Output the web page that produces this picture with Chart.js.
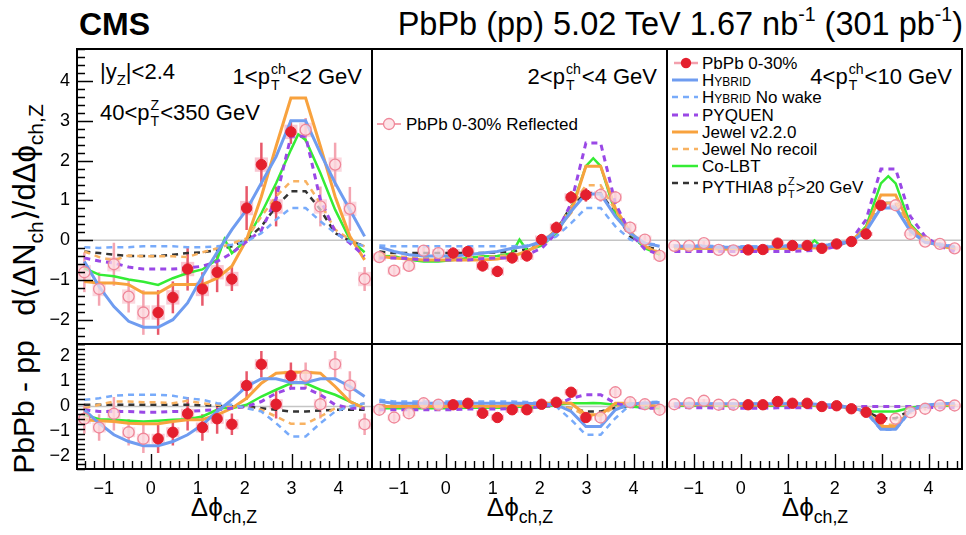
<!DOCTYPE html>
<html>
<head>
<meta charset="utf-8">
<script src="https://cdn.jsdelivr.net/npm/chart.js@4.4.1/dist/chart.umd.min.js"></script>
<style>
  body { margin: 0; background: #fff; }
  #page { position: relative; width: 966px; height: 535px; overflow: hidden;
          font-family: "Liberation Sans", Arial, Helvetica, sans-serif; color: #000; }
  #page canvas { position: absolute; }
  .t { position: absolute; white-space: nowrap; line-height: 1; }
  .t sub { font-size: 0.68em; vertical-align: -0.38em; line-height: 0; }
  .t sup { font-size: 0.6em; vertical-align: 0.7em; line-height: 0; }
  .ss { display: inline-flex; flex-direction: column; font-size: 0.64em; line-height: 1.15;
        vertical-align: 0.7em; margin: 0 1px; }
  .leg { position: absolute; font-size: 17px; line-height: 1; white-space: nowrap; }
  .leg svg { position: absolute; left: -31px; top: -4px; }
  .sc { font-variant: small-caps; }
</style>
</head>
<body>
<div id="page">
  <div class="t" style="left:79px;top:8px;font-size:32px;font-weight:bold;">CMS</div>
  <div class="t" style="right:3px;top:8px;font-size:32.5px;">PbPb (pp) 5.02 TeV 1.67 nb<sup>-1</sup> (301 pb<sup>-1</sup>)</div>

  <div class="t" style="left:24px;top:210px;font-size:31px;transform:translate(-50%,-50%) rotate(-90deg);">d⟨ΔN<sub>ch</sub>⟩/dΔϕ<sub>ch,Z</sub></div>
  <div class="t" style="left:24px;top:407px;font-size:30px;transform:translate(-50%,-50%) rotate(-90deg);">PbPb - pp</div>

  <div class="t" style="left:224px;top:494px;font-size:26px;transform:translateX(-50%);">Δϕ<sub>ch,Z</sub></div>
  <div class="t" style="left:520px;top:494px;font-size:26px;transform:translateX(-50%);">Δϕ<sub>ch,Z</sub></div>
  <div class="t" style="left:815px;top:494px;font-size:26px;transform:translateX(-50%);">Δϕ<sub>ch,Z</sub></div>

  <div class="t" style="left:100px;top:61px;font-size:22px;">|y<sub>Z</sub>|&lt;2.4</div>
  <div class="t" style="left:100px;top:97px;font-size:22px;">40&lt;p<span class="ss"><span>Z</span><span>T</span></span>&lt;350 GeV</div>
  <div class="t" style="right:604px;top:61px;font-size:22px;">1&lt;p<span class="ss"><span>ch</span><span>T</span></span>&lt;2 GeV</div>
  <div class="t" style="right:309px;top:61px;font-size:22px;">2&lt;p<span class="ss"><span>ch</span><span>T</span></span>&lt;4 GeV</div>
  <div class="t" style="right:14px;top:61px;font-size:22px;">4&lt;p<span class="ss"><span>ch</span><span>T</span></span>&lt;10 GeV</div>

  <div class="leg" style="left:406px;top:116px;">
    <svg width="28" height="24"><line x1="2" y1="12" x2="26" y2="12" stroke="#f3a0ad" stroke-width="2"/><circle cx="14" cy="12" r="5.5" fill="#fde4e8" stroke="#ef8799" stroke-width="1.3"/></svg>PbPb 0-30% Reflected</div>

  <div id="legend3"></div>
</div>

<script>
// phi bin centres (rad), 20 bins from -pi/2 to 3pi/2
const phiBins = [-1.414, -1.100, -0.785, -0.471, -0.157, 0.157, 0.471, 0.785, 1.100, 1.414,
                 1.728, 2.042, 2.356, 2.670, 2.985, 3.299, 3.613, 3.927, 4.241, 4.555];
// Co-LBT has a couple of extra points (pi/2 and pi)
const coLbtPhi = [-1.414, -1.100, -0.785, -0.471, -0.157, 0.157, 0.471, 0.785, 1.100, 1.414, 1.571,
                  1.728, 2.042, 2.356, 2.670, 2.985, 3.142, 3.299, 3.613, 3.927, 4.241, 4.555];
const dataPhi = phiBins.slice(5, 15);
const reflPhi = phiBins.slice(0, 5).concat(phiBins.slice(15));

const xTicks = [-1, 0, 1, 2, 3, 4];
const yTicksTop = [-2, -1, 0, 1, 2, 3, 4];
const yTicksBot = [-2, -1, 0, 1, 2];
const xRange = [-Math.PI / 2, 3 * Math.PI / 2];
const yRangeTop = [-2.6, 4.8];
const yRangeBot = [-2.5, 2.5];

// PbPb 0-30% (one array per pT bin: 1-2, 2-4, 4-10 GeV)
const pbpbTop = [
  [-1.81, -1.43, -0.72, -1.22, -0.80, -0.97, 0.81, 1.90, 0.85, 2.72],
  [-0.32, -0.28, -0.64, -0.78, -0.44, -0.39, 0.02, 0.32, 1.08, 1.14],
  [-0.24, -0.23, -0.07, -0.13, -0.13, -0.20, -0.09, -0.03, 0.16, 0.88]
];
const statTop = [
  [0.56, 0.40, 0.54, 0.42, 0.50, 0.30, 0.55, 0.55, 0.50, 0.30],
  [0.14, 0.14, 0.14, 0.14, 0.14, 0.14, 0.14, 0.15, 0.16, 0.17],
  [0.05, 0.05, 0.05, 0.05, 0.05, 0.05, 0.05, 0.05, 0.06, 0.07]
];
const sysTop = [
  [0.18, 0.18, 0.18, 0.18, 0.18, 0.18, 0.18, 0.18, 0.18, 0.18],
  [0.10, 0.10, 0.10, 0.10, 0.10, 0.10, 0.10, 0.10, 0.10, 0.10],
  [0.05, 0.05, 0.05, 0.05, 0.05, 0.05, 0.05, 0.05, 0.05, 0.05]
];
const reflTop = [
  [-0.80, -1.22, -0.60, -1.41, -1.81, 2.77, 0.85, 1.90, 0.79, -0.97],
  [-0.42, -0.76, -0.64, -0.26, -0.32, 1.14, 1.08, 0.32, 0.02, -0.39],
  [-0.14, -0.14, -0.07, -0.24, -0.25, 0.88, 0.16, -0.03, -0.09, -0.20]
];

const pbpbBot = [
  [-1.29, -1.03, -0.29, -0.84, -0.49, -0.71, 0.84, 1.69, 0.09, 1.23],
  [0.07, 0.13, -0.27, -0.44, -0.13, -0.13, 0.09, 0.17, 0.57, -0.44],
  [0.07, 0.07, 0.20, 0.13, 0.13, 0.00, 0.03, -0.09, -0.23, -0.49]
];
const statBot = [
  [0.57, 0.53, 0.67, 0.53, 0.60, 0.43, 0.57, 0.53, 0.57, 0.53],
  [0.17, 0.17, 0.17, 0.17, 0.17, 0.17, 0.17, 0.17, 0.18, 0.18],
  [0.07, 0.07, 0.07, 0.07, 0.07, 0.07, 0.07, 0.07, 0.08, 0.09]
];
const sysBot = [
  [0.20, 0.20, 0.20, 0.20, 0.20, 0.20, 0.20, 0.20, 0.20, 0.20],
  [0.12, 0.12, 0.12, 0.12, 0.12, 0.12, 0.12, 0.12, 0.12, 0.12],
  [0.07, 0.07, 0.07, 0.07, 0.07, 0.07, 0.07, 0.07, 0.07, 0.07]
];
const reflBot = [
  [-0.49, -0.84, -0.29, -1.03, -1.29, 1.23, 0.09, 1.69, 0.84, -0.71],
  [-0.13, -0.44, -0.27, 0.13, 0.07, -0.44, 0.57, 0.17, 0.09, -0.13],
  [0.09, 0.13, 0.23, 0.07, 0.07, -0.49, -0.23, -0.09, 0.04, 0.04]
];

// models, top row (values at phiBins)
const hybridTop = [
  [-0.53, -1.16, -1.66, -2.03, -2.18, -2.18, -1.99, -1.57, -0.90, -0.30, 0.27, 0.77, 1.44, 2.10, 3.00, 3.00, 2.19, 1.44, 0.77, 0.10],
  [-0.17, -0.28, -0.36, -0.39, -0.39, -0.39, -0.36, -0.32, -0.28, -0.20, -0.15, -0.03, 0.22, 0.73, 1.16, 1.16, 0.60, 0.18, -0.07, -0.15],
  [-0.15, -0.15, -0.15, -0.17, -0.17, -0.17, -0.17, -0.15, -0.15, -0.15, -0.13, -0.10, -0.03, 0.23, 0.81, 0.81, 0.23, -0.05, -0.11, -0.16]
];
const noWakeTop = [
  [-0.17, -0.19, -0.17, -0.17, -0.15, -0.15, -0.15, -0.17, -0.17, -0.15, -0.11, -0.03, 0.18, 0.52, 0.81, 0.81, 0.48, 0.18, -0.03, -0.15],
  [-0.13, -0.15, -0.15, -0.15, -0.15, -0.15, -0.15, -0.15, -0.15, -0.15, -0.13, -0.07, 0.10, 0.43, 0.81, 0.81, 0.35, 0.02, -0.08, -0.11],
  [-0.13, -0.13, -0.13, -0.15, -0.15, -0.15, -0.15, -0.13, -0.13, -0.13, -0.11, -0.08, 0.00, 0.25, 0.85, 0.85, 0.25, -0.03, -0.10, -0.14]
];
const pyquenTop = [
  [-0.44, -0.52, -0.57, -0.67, -0.72, -0.72, -0.72, -0.69, -0.65, -0.53, -0.32, -0.03, 0.25, 1.05, 2.61, 2.61, 1.02, 0.22, -0.07, -0.40],
  [-0.44, -0.44, -0.46, -0.49, -0.49, -0.49, -0.49, -0.46, -0.44, -0.44, -0.36, -0.20, 0.18, 0.93, 2.44, 2.44, 0.93, 0.18, -0.22, -0.36],
  [-0.28, -0.28, -0.28, -0.28, -0.28, -0.28, -0.28, -0.28, -0.28, -0.26, -0.24, -0.15, 0.02, 0.52, 1.79, 1.79, 0.60, 0.10, -0.15, -0.28]
];
const jewelTop = [
  [-1.03, -1.07, -1.07, -1.11, -1.32, -1.32, -1.11, -1.11, -1.11, -0.95, -0.65, 0.02, 1.10, 2.36, 3.57, 3.57, 2.36, 1.10, 0.10, -0.49],
  [-0.40, -0.44, -0.47, -0.49, -0.49, -0.49, -0.49, -0.49, -0.47, -0.40, -0.28, -0.07, 0.27, 0.70, 1.86, 1.86, 0.80, 0.22, -0.15, -0.33],
  [-0.20, -0.20, -0.20, -0.22, -0.22, -0.22, -0.22, -0.20, -0.20, -0.20, -0.18, -0.13, 0.00, 0.30, 1.14, 1.14, 0.35, 0.00, -0.15, -0.20]
];
const noRecoilTop = [
  [-0.28, -0.42, -0.50, -0.38, -0.40, -0.40, -0.40, -0.42, -0.30, -0.20, -0.08, 0.05, 0.60, 1.10, 1.48, 1.48, 0.93, 0.27, 0.02, -0.15],
  [-0.32, -0.40, -0.42, -0.44, -0.44, -0.44, -0.44, -0.42, -0.40, -0.36, -0.28, -0.10, 0.22, 0.85, 1.38, 1.38, 0.75, 0.18, -0.15, -0.30],
  [-0.18, -0.18, -0.18, -0.20, -0.20, -0.20, -0.20, -0.18, -0.18, -0.18, -0.16, -0.11, 0.00, 0.25, 0.94, 0.94, 0.30, 0.00, -0.13, -0.18]
];
const coLbtTop = [
  [-0.70, -0.86, -0.90, -0.98, -1.04, -1.12, -0.95, -0.82, -0.73, -0.48, 0.03, -0.32, 0.02, 0.68, 1.43, 2.27, 2.66, 2.52, 1.69, 0.77, 0.02, -0.30],
  [-0.39, -0.40, -0.49, -0.53, -0.53, -0.49, -0.44, -0.40, -0.39, -0.32, 0.02, -0.25, -0.13, 0.18, 0.77, 1.86, 2.06, 1.86, 0.68, 0.18, -0.20, -0.36],
  [-0.19, -0.20, -0.20, -0.22, -0.22, -0.22, -0.20, -0.20, -0.19, -0.18, 0.00, -0.17, -0.12, -0.03, 0.35, 1.43, 1.61, 1.43, 0.40, 0.02, -0.15, -0.20]
];
const pythiaTop = [
  [-0.28, -0.32, -0.36, -0.39, -0.39, -0.39, -0.36, -0.32, -0.30, -0.24, -0.15, 0.02, 0.35, 0.85, 1.23, 1.23, 0.77, 0.18, -0.01, -0.15],
  [-0.28, -0.32, -0.32, -0.32, -0.32, -0.32, -0.32, -0.32, -0.30, -0.28, -0.22, -0.07, 0.27, 0.85, 1.18, 1.18, 0.68, 0.10, -0.15, -0.24],
  [-0.17, -0.17, -0.17, -0.19, -0.19, -0.19, -0.19, -0.17, -0.17, -0.17, -0.15, -0.10, 0.00, 0.25, 0.94, 0.94, 0.28, -0.02, -0.12, -0.17]
];

// models, bottom row (PbPb - pp)
const hybridBot = [
  [-0.13, -0.67, -1.13, -1.40, -1.57, -1.57, -1.40, -1.13, -0.73, -0.20, 0.27, 0.80, 1.11, 1.11, 0.96, 0.96, 1.11, 1.11, 0.80, 0.40],
  [0.20, 0.13, 0.13, 0.13, 0.13, 0.13, 0.13, 0.13, 0.13, 0.13, 0.13, 0.10, 0.07, -0.20, -0.80, -0.80, -0.13, 0.11, 0.13, 0.16],
  [0.11, 0.11, 0.11, 0.11, 0.11, 0.11, 0.11, 0.11, 0.11, 0.11, 0.08, 0.05, -0.05, -0.20, -0.91, -0.91, -0.15, 0.05, 0.11, 0.13]
];
const noWakeBot = [
  [0.27, 0.33, 0.43, 0.47, 0.47, 0.47, 0.43, 0.33, 0.27, 0.13, 0.07, -0.07, -0.20, -0.67, -1.20, -1.20, -0.67, -0.20, 0.00, 0.13],
  [0.27, 0.20, 0.20, 0.20, 0.20, 0.20, 0.20, 0.20, 0.20, 0.20, 0.18, 0.13, 0.00, -0.53, -1.13, -1.13, -0.47, 0.07, 0.16, 0.20],
  [0.11, 0.11, 0.11, 0.11, 0.11, 0.11, 0.11, 0.11, 0.11, 0.11, 0.08, 0.05, -0.05, -0.25, -0.93, -0.93, -0.20, 0.05, 0.11, 0.13]
];
const pyquenBot = [
  [-0.13, -0.20, -0.20, -0.20, -0.23, -0.23, -0.20, -0.20, -0.16, -0.13, -0.07, 0.00, 0.20, 0.53, 0.73, 0.73, 0.47, 0.07, -0.07, -0.07],
  [-0.13, -0.13, -0.13, -0.13, -0.13, -0.13, -0.10, -0.10, -0.10, -0.08, -0.07, 0.00, 0.07, 0.33, 0.47, 0.47, 0.13, 0.00, -0.07, -0.07],
  [0.00, -0.05, -0.05, -0.07, -0.07, -0.07, -0.07, -0.05, -0.05, -0.05, -0.05, -0.03, 0.00, 0.00, 0.00, 0.00, 0.00, -0.03, -0.05, -0.05]
];
const jewelBot = [
  [-0.53, -0.57, -0.60, -0.67, -0.69, -0.69, -0.60, -0.53, -0.53, -0.33, -0.07, 0.33, 0.93, 1.33, 1.37, 1.37, 1.33, 0.80, 0.20, -0.07],
  [0.00, 0.00, 0.00, 0.00, 0.00, 0.00, 0.00, 0.00, 0.00, 0.03, 0.05, 0.10, 0.16, 0.13, -0.33, -0.33, 0.13, 0.13, 0.07, 0.00],
  [0.07, 0.07, 0.07, 0.07, 0.07, 0.07, 0.07, 0.07, 0.07, 0.07, 0.05, 0.03, -0.05, -0.20, -0.80, -0.80, -0.15, 0.03, 0.07, 0.07]
];
const noRecoilBot = [
  [-0.07, 0.07, 0.20, 0.20, 0.17, 0.17, 0.13, 0.23, 0.13, 0.07, 0.00, -0.07, -0.13, -0.40, -0.69, -0.69, -0.40, -0.07, 0.00, 0.13],
  [0.03, 0.03, 0.03, 0.03, 0.03, 0.03, 0.03, 0.03, 0.03, 0.03, 0.03, 0.03, 0.03, -0.07, -0.37, -0.37, 0.00, 0.03, 0.03, 0.03],
  [0.05, 0.05, 0.05, 0.05, 0.05, 0.05, 0.05, 0.05, 0.05, 0.05, 0.03, 0.02, -0.05, -0.20, -0.73, -0.73, -0.15, 0.02, 0.05, 0.05]
];
const coLbtBot = [
  [-0.33, -0.51, -0.53, -0.57, -0.60, -0.57, -0.53, -0.51, -0.40, -0.13, -0.05, -0.07, 0.07, 0.40, 0.67, 0.93, 0.95, 0.93, 0.67, 0.47, 0.20, -0.07],
  [-0.07, -0.07, -0.07, -0.07, -0.07, -0.07, -0.05, -0.05, -0.05, -0.05, 0.00, -0.05, -0.03, 0.07, 0.13, 0.13, 0.14, 0.13, 0.07, 0.00, -0.05, -0.07],
  [0.03, 0.03, 0.03, 0.03, 0.03, 0.03, 0.03, 0.03, 0.03, 0.03, 0.03, 0.03, 0.00, -0.05, -0.20, -0.20, -0.20, -0.20, -0.05, 0.03, 0.03, 0.03]
];
const pythiaBot = [
  [0.07, 0.07, 0.07, 0.07, 0.07, 0.07, 0.07, 0.07, 0.05, 0.03, 0.00, 0.00, -0.07, -0.13, -0.20, -0.20, -0.16, -0.13, -0.13, -0.13],
  [0.03, 0.03, 0.03, 0.03, 0.03, 0.03, 0.03, 0.03, 0.03, 0.03, 0.03, 0.03, 0.00, -0.07, -0.20, -0.20, -0.05, 0.00, 0.00, 0.00],
  [0.05, 0.05, 0.05, 0.05, 0.05, 0.05, 0.05, 0.05, 0.05, 0.05, 0.03, 0.02, -0.05, -0.20, -0.47, -0.47, -0.15, 0.00, 0.03, 0.05]
];

// model styles (legend order)
const models = [
  { name: '<span class="sc">Hybrid</span>', top: hybridTop, bot: hybridBot, x: phiBins, color: '#6f9cf0', dash: [], width: 3 },
  { name: '<span class="sc">Hybrid</span> No wake', top: noWakeTop, bot: noWakeBot, x: phiBins, color: '#78abfa', dash: [6, 5], width: 2.5 },
  { name: 'PYQUEN', top: pyquenTop, bot: pyquenBot, x: phiBins, color: '#9a48e6', dash: [6, 5], width: 3 },
  { name: 'Jewel v2.2.0', top: jewelTop, bot: jewelBot, x: phiBins, color: '#f8a23e', dash: [], width: 3 },
  { name: 'Jewel No recoil', top: noRecoilTop, bot: noRecoilBot, x: phiBins, color: '#f8b262', dash: [6, 5], width: 2.5 },
  { name: 'Co-LBT', top: coLbtTop, bot: coLbtBot, x: coLbtPhi, color: '#35ec35', dash: [], width: 2.5 },
  { name: 'PYTHIA8 p<span class="ss"><span>Z</span><span>T</span></span>&gt;20 GeV', top: pythiaTop, bot: pythiaBot, x: phiBins, color: '#333333', dash: [6, 5], width: 2.5 }
];

// frame geometry
const panelX = [77, 372, 667];
const panelW = 295;
const rowY = [49, 344];
const rowH = [295, 125];

function pts(xs, ys) {
  return xs.map((x, i) => ({ x: x, y: ys[i] }));
}

function mirrorIdx(i) {
  return i < 5 ? 4 - i : 14 - i;
}

function minus(v) {
  return v < 0 ? '\u2212' + Math.abs(v) : String(v);
}

// ROOT-like frame, inward ticks, zero line, boxes and error bars
const rootStyle = {
  id: 'rootStyle',
  beforeDatasetsDraw(chart, args, o) {
    const { ctx, chartArea: a, scales: { x, y } } = chart;
    ctx.save();
    ctx.beginPath();
    ctx.rect(a.left, a.top, a.right - a.left, a.bottom - a.top);
    ctx.clip();
    // zero line
    ctx.strokeStyle = '#c4c4c4';
    ctx.lineWidth = 1.5;
    ctx.beginPath();
    ctx.moveTo(a.left, y.getPixelForValue(0));
    ctx.lineTo(a.right, y.getPixelForValue(0));
    ctx.stroke();
    // systematic boxes
    const drawBoxes = (xs, ys, sys, col, mirror) => {
      ctx.fillStyle = col;
      xs.forEach((xv, i) => {
        const s = sys[mirror ? mirrorIdx(i) : i];
        const x0 = x.getPixelForValue(xv - o.boxHalf), x1 = x.getPixelForValue(xv + o.boxHalf);
        const y0 = y.getPixelForValue(ys[i] + s), y1 = y.getPixelForValue(ys[i] - s);
        ctx.fillRect(x0, y0, x1 - x0, y1 - y0);
      });
    };
    drawBoxes(o.reflX, o.reflY, o.sys, 'rgba(247,182,195,0.55)', true);
    drawBoxes(o.dataX, o.dataY, o.sys, 'rgba(243,160,178,0.6)', false);
    // stat error bars
    const drawErr = (xs, ys, err, col, mirror) => {
      ctx.strokeStyle = col;
      ctx.lineWidth = 2.5;
      xs.forEach((xv, i) => {
        const e = err[mirror ? mirrorIdx(i) : i];
        const px = x.getPixelForValue(xv);
        ctx.beginPath();
        ctx.moveTo(px, y.getPixelForValue(ys[i] - e));
        ctx.lineTo(px, y.getPixelForValue(ys[i] + e));
        ctx.stroke();
      });
    };
    drawErr(o.reflX, o.reflY, o.stat, '#f4a5b1', true);
    drawErr(o.dataX, o.dataY, o.stat, '#e8586a', false);
    ctx.restore();
  },
  afterDraw(chart, args, o) {
    const { ctx, chartArea: a, scales: { x, y } } = chart;
    ctx.save();
    ctx.strokeStyle = '#000';
    ctx.lineWidth = 1.4;
    ctx.beginPath();
    if (o.xTicks) {
      for (let v = -1.4; v <= 4.61; v += 0.2) {
        const px = Math.round(x.getPixelForValue(v)) + 0.5;
        const major = Math.abs(v - Math.round(v)) < 0.01;
        ctx.moveTo(px, a.bottom);
        ctx.lineTo(px, a.bottom - (major ? 15 : 8));
      }
    }
    if (o.yTicks) {
      for (let v = y.min; v <= y.max + 0.001; v += 0.2) {
        const py = Math.round(y.getPixelForValue(v)) + 0.5;
        const major = Math.abs(v - Math.round(v)) < 0.01;
        ctx.moveTo(a.left, py);
        ctx.lineTo(a.left + (major ? 16 : 8), py);
      }
    }
    ctx.stroke();
    ctx.lineWidth = 2;
    ctx.strokeRect(a.left, a.top, a.right - a.left, a.bottom - a.top);
    ctx.restore();
  }
};

function makePanel(row, col) {
  const page = document.getElementById('page');
  const showY = col === 0;
  const showX = row === 1;
  const L = showY ? 52 : 4, R = 4, T = 4, B = showX ? 30 : 4;
  const cv = document.createElement('canvas');
  cv.width = panelW + L + R;
  cv.height = rowH[row] + T + B;
  cv.style.left = (panelX[col] - L) + 'px';
  cv.style.top = (rowY[row] - T) + 'px';
  page.appendChild(cv);

  const top = row === 0;
  const dataY = (top ? pbpbTop : pbpbBot)[col];
  const reflY = (top ? reflTop : reflBot)[col];

  const datasets = [
    {
      data: pts(dataPhi, dataY), showLine: false,
      pointRadius: 5.2, pointBackgroundColor: '#e41f2e', pointBorderColor: '#e41f2e', pointBorderWidth: 1
    },
    {
      data: pts(reflPhi, reflY), showLine: false,
      pointRadius: 5.5, pointBackgroundColor: 'rgba(253,226,231,0.7)', pointBorderColor: '#ef8799', pointBorderWidth: 1.3
    }
  ];
  models.forEach(m => {
    datasets.push({
      data: pts(m.x, (top ? m.top : m.bot)[col]),
      showLine: true, pointRadius: 0, fill: false, tension: 0,
      borderColor: m.color, borderWidth: m.width, borderDash: m.dash
    });
  });

  const tickFont = { family: '"Liberation Sans", Arial, sans-serif', size: 18 };
  new Chart(cv.getContext('2d'), {
    type: 'line',
    data: { datasets: datasets },
    options: {
      responsive: false,
      animation: false,
      events: [],
      layout: { autoPadding: false, padding: { left: 0, right: R, top: T, bottom: 0 } },
      plugins: {
        legend: { display: false },
        tooltip: { enabled: false },
        rootStyle: {
          dataX: dataPhi, dataY: dataY, reflX: reflPhi, reflY: reflY,
          stat: (top ? statTop : statBot)[col], sys: (top ? sysTop : sysBot)[col],
          boxHalf: 0.14, xTicks: showX, yTicks: showY
        }
      },
      scales: {
        x: {
          type: 'linear', min: xRange[0], max: xRange[1], display: showX,
          grid: { display: false, drawTicks: false }, border: { display: false },
          ticks: { font: tickFont, color: '#000', padding: 9, maxRotation: 0, callback: minus },
          afterBuildTicks: s => { s.ticks = xTicks.map(v => ({ value: v })); },
          afterFit: s => { s.height = B; s.paddingLeft = 0; s.paddingRight = 0; }
        },
        y: {
          type: 'linear', min: (top ? yRangeTop : yRangeBot)[0], max: (top ? yRangeTop : yRangeBot)[1], display: showY,
          grid: { display: false, drawTicks: false }, border: { display: false },
          ticks: { font: tickFont, color: '#000', padding: 7, callback: minus },
          afterBuildTicks: s => { s.ticks = (top ? yTicksTop : yTicksBot).map(v => ({ value: v })); },
          afterFit: s => { s.width = L; s.paddingTop = 0; s.paddingBottom = 0; }
        }
      }
    },
    plugins: [rootStyle]
  });
}

// legend in the right-hand top panel
function buildLegend() {
  const box = document.getElementById('legend3');
  const x0 = 702, y0 = 55, step = 17.2;
  let html = '<div class="leg" style="left:' + x0 + 'px;top:' + y0 + 'px;">' +
    '<svg width="30" height="24"><line x1="3" y1="12" x2="27" y2="12" stroke="#f3a0ad" stroke-width="2.5"/>' +
    '<circle cx="15" cy="12" r="5.2" fill="#e41f2e"/></svg>PbPb 0-30%</div>';
  models.forEach((m, i) => {
    const y = y0 + step * (i + 1);
    const dash = m.dash.length ? ' stroke-dasharray="' + m.dash.join(' ') + '"' : '';
    html += '<div class="leg" style="left:' + x0 + 'px;top:' + y + 'px;">' +
      '<svg width="30" height="24"><line x1="1" y1="12" x2="27" y2="12" stroke="' + m.color +
      '" stroke-width="' + m.width + '"' + dash + '/></svg>' + m.name + '</div>';
  });
  box.innerHTML = html;
}

document.addEventListener('DOMContentLoaded', function() {
  for (let r = 0; r < 2; r++) {
    for (let c = 0; c < 3; c++) {
      makePanel(r, c);
    }
  }
  buildLegend();
});
</script>
</body>
</html>
